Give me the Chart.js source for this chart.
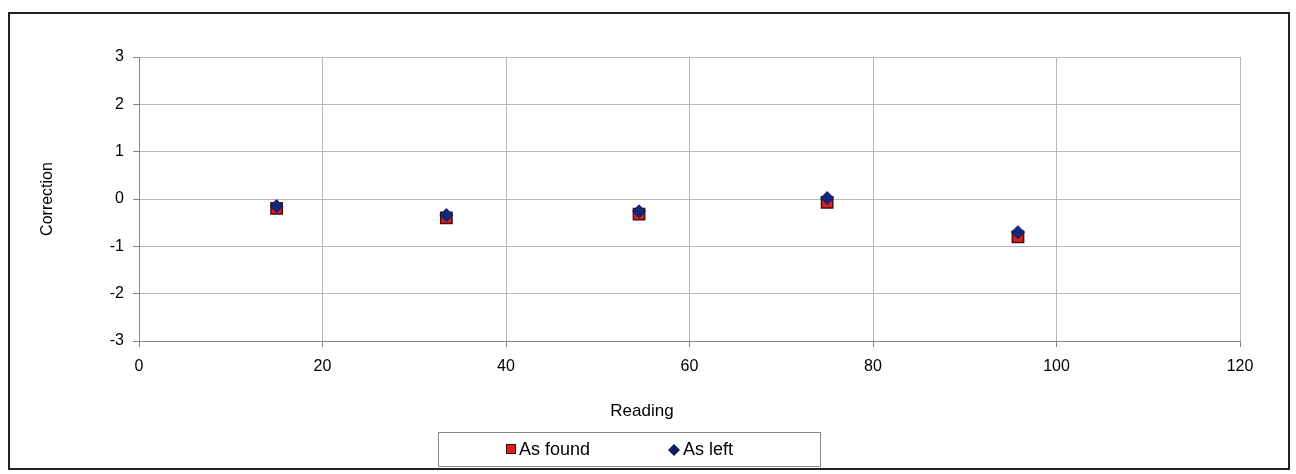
<!DOCTYPE html>
<html>
<head>
<meta charset="utf-8">
<script src="https://cdn.jsdelivr.net/npm/chart.js@4/dist/chart.umd.min.js"></script>
<style>
  html, body { margin: 0; padding: 0; background: #fff; }
  #wrap { position: relative; width: 1296px; height: 474px; }
  #frame { position: absolute; left: 8px; top: 12px; width: 1278px; height: 454px; border: 2px solid #222; pointer-events: none; }
  canvas { position: absolute; left: 0; top: 0; }
</style>
</head>
<body>
<div id="wrap">
  <canvas id="myChart" width="1296" height="474"></canvas>
  <div id="frame"></div>
</div>
<script>
// readings (x) and corrections (y)
const readings = [15, 33.5, 54.5, 75, 95.8];
const asFound = [-0.2, -0.4, -0.32, -0.07, -0.8];
const asLeft = [-0.15, -0.34, -0.26, 0.02, -0.7];
const seriesNames = ['As found', 'As left'];
const xTicks = [0, 20, 40, 60, 80, 100, 120];
const yTicks = [-3, -2, -1, 0, 1, 2, 3];

const FONT = 'Liberation Sans, Arial, sans-serif';

const toPoints = (ys) => readings.map((x, i) => ({ x: x, y: ys[i] }));

// axis title "Reading" and the boxed legend, as in the spreadsheet chart
const boxLegend = {
  id: 'boxLegend',
  afterDraw(chart) {
    const c = chart.ctx;
    c.save();
    c.fillStyle = '#000';
    c.textAlign = 'center';
    c.textBaseline = 'middle';
    c.font = '17px ' + FONT;
    c.fillText('Reading', 642, 411);

    c.textAlign = 'left';
    c.strokeStyle = '#8a8a8a';
    c.lineWidth = 1;
    c.strokeRect(438.5, 432.5, 382, 34);
    c.font = '18px ' + FONT;
    // As found
    c.fillStyle = '#e02020';
    c.fillRect(506, 444, 10, 10);
    c.strokeStyle = '#3a0a0a';
    c.strokeRect(506.5, 444.5, 9, 9);
    c.fillStyle = '#000';
    c.fillText(seriesNames[0], 519, 450);
    // As left
    c.fillStyle = '#0c1f5c';
    c.beginPath();
    c.moveTo(674, 444); c.lineTo(680, 450); c.lineTo(674, 456); c.lineTo(668, 450);
    c.closePath(); c.fill();
    c.fillStyle = '#000';
    c.fillText(seriesNames[1], 683, 450);
    c.restore();
  }
};

const ctx = document.getElementById('myChart').getContext('2d');
new Chart(ctx, {
  type: 'scatter',
  data: {
    datasets: [{
      label: seriesNames[0],
      data: toPoints(asFound),
      order: 2,
      pointStyle: 'rect',
      pointRadius: 8,
      backgroundColor: '#d42020',
      borderColor: '#4a0e0e',
      borderWidth: 1.5
    }, {
      label: seriesNames[1],
      data: toPoints(asLeft),
      order: 1,
      pointStyle: 'rectRot',
      pointRadius: 6.5,
      backgroundColor: '#14267a',
      borderColor: '#0c1f5c',
      borderWidth: 1
    }]
  },
  options: {
    responsive: false,
    animation: false,
    devicePixelRatio: 1,
    layout: { padding: { left: 38, top: 57, right: 56, bottom: 54 } },
    plugins: {
      legend: { display: false },
      tooltip: { enabled: false }
    },
    scales: {
      x: {
        type: 'linear',
        min: 0, max: 120,
        afterFit: (s) => { s.height = 79; },
        afterBuildTicks: (s) => { s.ticks = xTicks.map(v => ({ value: v })); },
        grid: { color: '#b8b8b8', tickLength: 6, tickColor: '#888' },
        border: { color: '#888' },
        ticks: { color: '#000', font: { family: FONT, size: 16 }, padding: 10, maxRotation: 0 }
      },
      y: {
        min: -3, max: 3,
        afterFit: (s) => { s.width = 101; },
        afterBuildTicks: (s) => { s.ticks = yTicks.map(v => ({ value: v })); },
        grid: { color: '#b8b8b8', tickLength: 6, tickColor: '#888' },
        border: { color: '#888' },
        ticks: { color: '#000', font: { family: FONT, size: 16 }, padding: 9 },
        title: { display: true, text: 'Correction', color: '#000', font: { family: FONT, size: 16 }, padding: 0 }
      }
    }
  },
  plugins: [boxLegend]
});
</script>
</body>
</html>
